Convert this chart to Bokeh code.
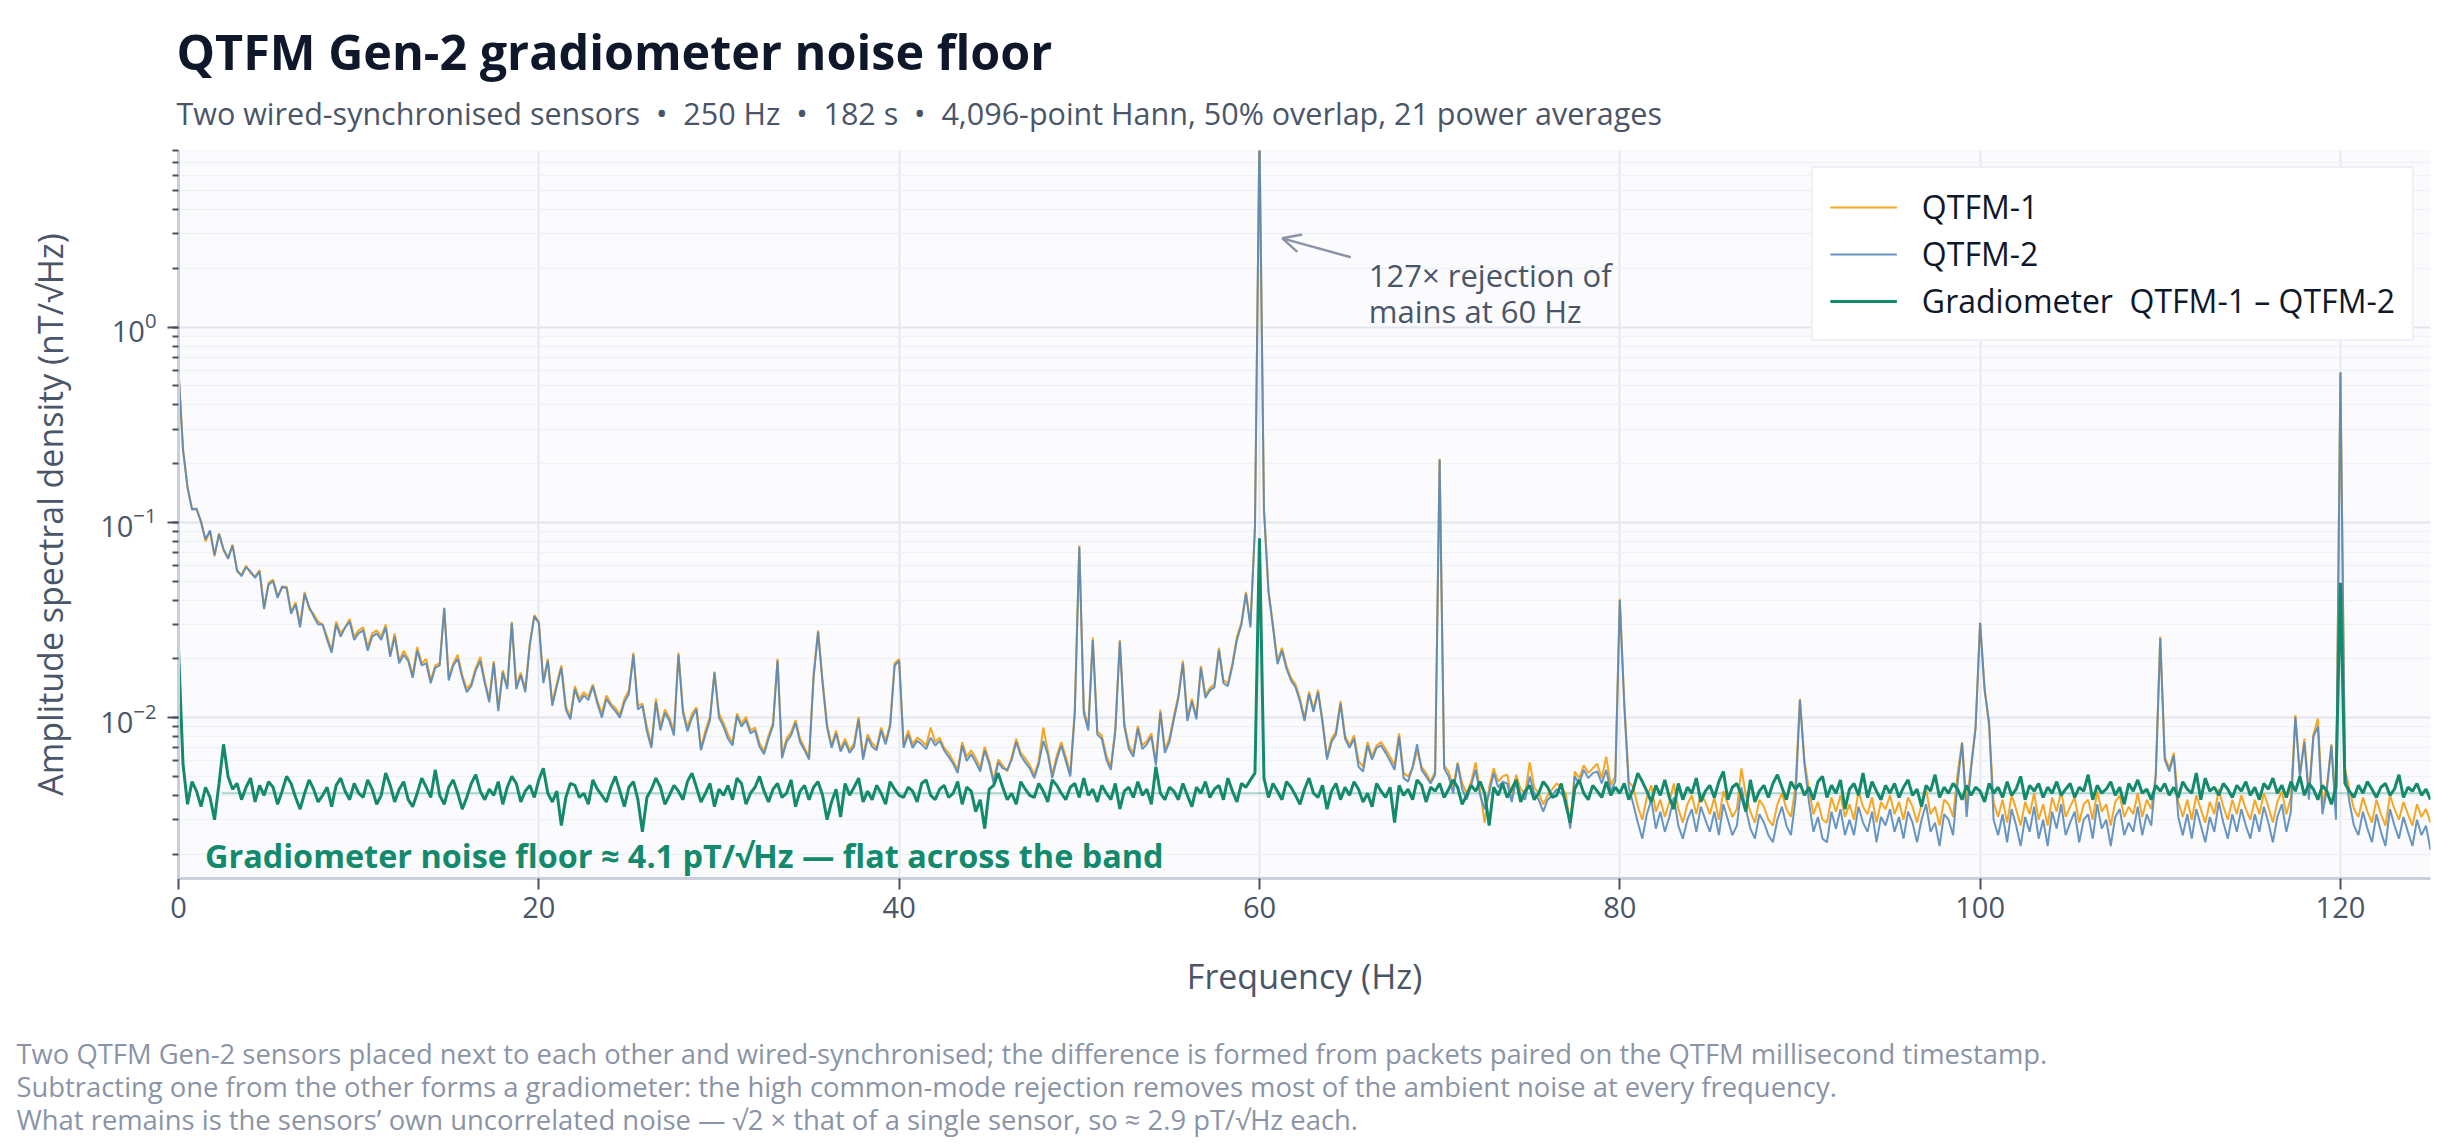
from bokeh.plotting import figure
from bokeh.models import (Label, Arrow, OpenHead, Legend, LegendItem, FixedTicker, Title)
from bokeh.embed import file_html
from bokeh.resources import INLINE

# ---------------- data (amplitude spectral density, pT/sqrt(Hz), 0.25 Hz bins) ----------------
F_STEP = 0.25
F_MAX = 125

QTFM1_PT = [
    605, 240, 150, 118, 116, 102, 80, 90, 67, 88, 72, 66, 77, 56, 54, 60, 55, 53, 57, 37,
    49, 51, 42, 46, 47, 35, 39, 30, 44, 36, 34, 31, 30, 26, 22, 31, 27, 29, 32, 26,
    28, 29, 23, 27, 28, 26, 30, 21, 27, 19.5, 22, 20, 16.5, 23, 19, 20, 15.5, 18.5, 19, 36,
    16, 19, 21, 16.5, 14, 15, 18, 20.5, 15.5, 12.5, 19.5, 11.2, 17.5, 14.5, 31, 14.5, 17, 14, 24, 33.5,
    31, 15.5, 20, 12, 15, 18.5, 11.5, 10, 14.5, 12.5, 13.5, 12.8, 14.8, 12.2, 10.5, 13, 11.8, 11.2, 10.3, 12.5,
    13.8, 21.5, 11.5, 11.8, 9, 7.2, 12.5, 9, 11, 10, 8.5, 21.5, 11, 8.9, 10.5, 11.3, 7, 8.6, 10.1, 17.2,
    10.5, 9.4, 8.2, 7.4, 10.5, 9.3, 10.1, 8.6, 8.9, 7.4, 6.7, 8.1, 9.4, 20, 6.4, 7.8, 8.4, 9.7, 7.8, 7.0,
    6.3, 16.5, 28, 15.5, 9.2, 7.2, 8.6, 6.9, 7.8, 6.8, 7.4, 10.1, 6.3, 8.2, 7.4, 7.0, 8.9, 7.6, 9.3, 19,
    20, 7.2, 8.6, 7.3, 7.9, 7.6, 7.2, 8.9, 7.5, 7.9, 7.0, 6.6, 6.0, 5.4, 7.5, 6.3, 6.8, 6.2, 5.5, 7.1,
    6.0, 4.8, 6.1, 5.7, 5.3, 6.3, 7.8, 6.6, 6.2, 5.7, 5.1, 6.0, 8.9, 6.8, 5.1, 6.4, 7.5, 6.3, 5.2, 11,
    76, 11, 9.0, 25.7, 8.5, 8.1, 6.4, 5.6, 8.8, 25, 9.3, 7.2, 6.6, 9.1, 7.2, 7.6, 8.3, 5.9, 11, 6.9,
    7.8, 10.2, 13, 19.6, 9.9, 12.5, 10.1, 18.4, 13, 14.2, 14.8, 22.8, 15.5, 15, 19, 26, 30.7, 44, 30, 95,
    10300, 118, 45, 30, 19.5, 22.8, 18.4, 16, 14.8, 12.5, 9.9, 13.6, 11, 13.9, 9.7, 6.3, 7.8, 8.5, 12.2, 8.1,
    7.2, 8.1, 6.0, 5.6, 7.5, 6.3, 7.2, 7.5, 6.9, 6.3, 5.7, 8.3, 5.2, 5.0, 5.5, 6.8, 5.6, 5.2, 4.7, 5.3,
    212, 5.7, 5.3, 4.4, 5.9, 4.6, 4.1, 4.7, 5.9, 4.2, 2.9, 4.4, 5.5, 4.7, 5.0, 5.1, 3.9, 5.1, 4.3, 4.1,
    5.9, 4.4, 4.1, 3.6, 4.0, 4.3, 4.6, 4.4, 4.1, 2.8, 5.3, 4.9, 5.7, 5.2, 5.5, 5.8, 4.9, 6.3, 4.5, 5.0,
    40.6, 12, 4.7, 4.4, 3.5, 3.0, 3.9, 4.5, 3.3, 3.8, 3.1, 3.7, 4.6, 3.4, 2.9, 3.6, 4.0, 3.2, 4.1, 3.7,
    3.2, 3.9, 3.0, 4.2, 3.6, 3.1, 3.4, 5.5, 4.0, 3.3, 2.9, 3.8, 3.5, 3.0, 2.8, 3.6, 4.1, 3.4, 3.1, 4.4,
    12.5, 6.0, 4.3, 3.2, 3.7, 3.0, 2.9, 3.9, 3.3, 4.0, 3.1, 3.6, 3.0, 4.2, 3.5, 3.2, 3.9, 2.9, 3.7, 3.4,
    4.0, 3.2, 3.7, 3.0, 3.9, 3.5, 2.9, 3.6, 4.3, 3.2, 3.5, 2.8, 3.8, 3.6, 3.1, 5.2, 7.5, 3.6, 5.7, 9,
    30.7, 14.2, 9, 3.7, 3.1, 3.8, 2.9, 4.0, 3.4, 2.8, 3.7, 3.2, 4.1, 3.0, 3.6, 2.8, 3.9, 3.3, 4.2, 3.1,
    3.5, 3.9, 2.9, 3.6, 3.8, 3.0, 4.2, 3.3, 3.6, 2.8, 3.7, 4.0, 3.1, 3.5, 3.2, 4.1, 3.1, 3.8, 3.4, 5.1,
    26, 6.3, 5.5, 6.6, 3.7, 3.1, 3.8, 3.0, 4.0, 3.4, 2.9, 3.7, 3.2, 4.3, 3.5, 3.0, 3.8, 3.2, 4.0, 3.4,
    3.0, 3.8, 3.2, 4.1, 3.5, 2.9, 3.7, 4.2, 3.2, 3.9, 10.3, 5.1, 7.8, 4.1, 8.2, 9.9, 3.6, 4.5, 7.3, 3.5,
    590, 5.5, 4.3, 3.4, 3.1, 3.9, 3.3, 2.9, 3.8, 3.2, 2.8, 4.0, 3.4, 3.0, 3.7, 3.2, 2.8, 3.6, 3.1, 3.4, 2.9,
]

QTFM2_PT = [
    600, 235, 152, 116, 118, 100, 82, 91, 68, 87, 73, 65, 76, 57, 53, 59, 56, 52, 56, 36,
    48, 50, 41, 47, 46, 34, 38, 29, 43, 37, 33, 30, 30, 25, 21.5, 30, 26, 29, 31, 25,
    27, 28, 22, 26, 27, 25, 29, 20.5, 26, 19, 21, 19.5, 16, 22, 18.5, 19, 15, 18, 18.5, 36.5,
    15.5, 18.5, 20, 16, 13.5, 14.5, 17.5, 19.5, 15, 12, 19, 10.8, 17, 14, 30.5, 14, 16.5, 13.5, 23.5, 33,
    30.5, 15, 19.5, 11.5, 14.5, 18, 11, 9.8, 14, 12, 13, 12.3, 14.5, 11.8, 10, 12.5, 11.5, 10.8, 10, 12,
    13.2, 21, 11, 11.5, 8.5, 7.0, 12, 8.6, 10.6, 9.6, 8.1, 21, 10.6, 8.5, 10, 11, 6.8, 8.2, 9.7, 17,
    10, 9, 7.8, 7.2, 10.2, 9, 9.7, 8.3, 8.6, 7.1, 6.5, 7.8, 9.1, 19.6, 6.2, 7.5, 8.1, 9.4, 7.5, 6.8,
    6.1, 16, 27.5, 15, 8.9, 7.0, 8.3, 6.7, 7.5, 6.6, 7.1, 9.8, 6.1, 7.9, 7.1, 6.8, 8.6, 7.3, 9.0, 18.5,
    19.5, 7.0, 8.2, 7.0, 7.6, 7.3, 6.9, 7.9, 7.2, 7.6, 6.8, 6.3, 5.8, 5.2, 7.2, 6.0, 6.5, 5.9, 5.3, 6.8,
    5.8, 4.6, 5.9, 5.5, 5.4, 6.1, 7.5, 6.4, 5.9, 5.5, 4.9, 5.8, 7.6, 6.5, 4.9, 6.1, 7.2, 6.0, 5.0, 10.5,
    75, 10.5, 8.6, 25, 8.2, 7.8, 6.1, 5.4, 8.5, 24.5, 9.0, 6.9, 6.3, 8.8, 6.9, 7.3, 8.0, 5.7, 10.6, 6.6,
    7.5, 9.8, 12.6, 19, 9.6, 12.1, 9.8, 18, 12.6, 13.8, 14.3, 22.2, 15, 14.5, 18.5, 25, 30, 43, 29, 93,
    10000, 115, 44, 29, 18.8, 22, 17.8, 15.5, 14.3, 12.1, 9.6, 13.2, 10.7, 13.5, 9.4, 6.1, 7.5, 8.2, 11.8, 7.8,
    7.0, 7.8, 5.6, 5.3, 7.2, 6.1, 7.0, 7.2, 6.6, 6.0, 5.4, 8.0, 4.9, 4.7, 5.6, 7.3, 5.4, 5.0, 4.6, 5.1,
    210, 5.5, 5.0, 4.1, 5.8, 4.3, 3.8, 4.5, 5.4, 4.0, 3.4, 4.1, 5.2, 4.4, 4.7, 4.6, 3.7, 4.8, 4.0, 3.8,
    5.0, 4.1, 3.8, 3.3, 3.8, 4.0, 4.3, 4.1, 3.8, 2.7, 5.0, 4.6, 5.4, 4.9, 5.2, 5.3, 4.6, 5.4, 4.2, 4.7,
    40, 11.5, 4.4, 3.6, 2.9, 2.4, 3.2, 3.8, 2.7, 3.3, 2.6, 3.1, 3.9, 2.8, 2.4, 3.0, 3.4, 2.6, 3.5, 3.0,
    2.6, 3.3, 2.5, 3.6, 3.0, 2.5, 2.8, 4.4, 3.4, 2.7, 2.4, 3.2, 2.9, 2.5, 2.3, 3.0, 3.5, 2.8, 2.5, 3.8,
    12.3, 5.8, 3.7, 2.6, 3.1, 2.4, 2.3, 3.3, 2.7, 3.4, 2.5, 3.0, 2.5, 3.5, 2.9, 2.6, 3.3, 2.3, 3.1, 2.8,
    3.4, 2.6, 3.1, 2.4, 3.3, 2.9, 2.3, 3.0, 3.6, 2.6, 2.9, 2.2, 3.2, 3.0, 2.5, 4.6, 7.4, 3.1, 5.5, 8.8,
    30.5, 13.8, 9.5, 3.0, 2.5, 3.2, 2.3, 3.4, 2.8, 2.2, 3.1, 2.6, 3.5, 2.4, 3.0, 2.2, 3.3, 2.7, 3.6, 2.5,
    2.9, 3.3, 2.3, 3.0, 3.2, 2.4, 3.6, 2.7, 3.0, 2.2, 3.1, 3.4, 2.5, 2.9, 2.6, 3.5, 2.5, 3.2, 2.8, 5.0,
    25.5, 6.1, 5.3, 6.4, 3.1, 2.5, 3.2, 2.4, 3.4, 2.8, 2.3, 3.1, 2.6, 3.7, 2.9, 2.4, 3.2, 2.6, 3.4, 2.8,
    2.4, 3.2, 2.6, 3.5, 2.9, 2.3, 3.1, 3.6, 2.6, 3.3, 10.1, 5.0, 7.5, 3.8, 8.0, 9.0, 3.2, 4.3, 7.2, 3.0,
    585, 5.3, 3.7, 2.8, 2.5, 3.3, 2.7, 2.3, 3.2, 2.6, 2.2, 3.4, 2.8, 2.4, 3.1, 2.6, 2.2, 3.0, 2.5, 2.8, 2.1,
]

GRAD_PT = [
    22.3, 5.8, 3.6, 4.7, 4.2, 3.5, 4.4, 3.9, 3.0, 4.6, 7.3, 5.0, 4.3, 4.6, 3.8, 4.4, 4.9, 3.7, 4.5, 4.0,
    4.7, 4.4, 3.6, 4.2, 5.0, 4.6, 3.9, 3.4, 4.1, 4.8, 4.3, 3.7, 4.0, 4.4, 3.5, 4.5, 4.9, 4.2, 3.8, 4.6,
    4.1, 3.9, 4.8, 4.3, 3.6, 4.0, 5.2, 4.5, 3.7, 4.3, 4.7, 3.8, 3.5, 4.1, 4.9, 4.4, 3.9, 5.4, 4.0, 3.6,
    4.4, 4.8, 4.1, 3.4, 3.9, 4.6, 5.1, 4.2, 3.8, 4.3, 4.0, 4.7, 3.6, 4.4, 5.0, 4.6, 3.7, 4.2, 4.5, 3.9,
    4.8, 5.5, 4.1, 3.7, 4.2, 2.8, 3.9, 4.6, 4.5, 3.9, 4.1, 3.6, 4.8, 4.3, 4.0, 3.7, 4.4, 5.0, 4.2, 3.5,
    4.4, 4.7, 3.8, 2.6, 3.9, 4.3, 4.9, 4.4, 3.6, 4.0, 4.5, 4.2, 3.8, 4.7, 5.2, 4.4, 3.7, 4.1, 4.6, 3.5,
    4.3, 4.0, 4.5, 3.8, 4.9, 4.6, 3.6, 4.1, 4.4, 5.0, 4.2, 3.7, 4.3, 4.6, 3.9, 4.1, 4.8, 3.5, 4.2, 4.5,
    3.8, 4.4, 4.7, 4.0, 3.0, 3.7, 4.3, 3.1, 4.6, 4.0, 4.4, 4.9, 3.7, 4.2, 3.8, 4.5, 4.1, 3.6, 4.7, 4.3,
    4.0, 3.9, 4.4, 4.2, 3.7, 4.6, 4.8, 4.0, 3.8, 4.3, 4.5, 3.9, 4.1, 4.7, 3.6, 4.4, 4.2, 3.3, 3.8, 2.7,
    4.3, 4.5, 5.2, 4.4, 3.8, 4.1, 3.6, 4.7, 4.3, 4.0, 3.9, 4.6, 4.2, 3.7, 4.8, 4.5, 4.1, 3.8, 4.4, 4.6,
    3.9, 4.9, 4.0, 4.3, 3.7, 4.5, 4.1, 3.8, 4.6, 3.4, 4.2, 4.4, 3.9, 4.7, 4.0, 4.3, 3.6, 5.6, 4.1, 3.8,
    4.4, 4.2, 3.8, 4.6, 4.0, 3.5, 4.4, 4.1, 4.7, 3.9, 4.3, 4.5, 3.8, 4.9, 4.2, 3.7, 4.6, 4.4, 4.8, 5.2,
    83, 4.9, 3.9, 4.6, 4.2, 3.8, 4.7, 4.4, 4.0, 3.6, 4.3, 4.9, 4.1, 3.9, 4.5, 3.4, 4.2, 4.6, 3.8, 4.4,
    4.0, 4.7, 4.3, 3.7, 4.1, 3.5, 4.6, 4.2, 3.9, 4.4, 2.9, 4.5, 4.0, 4.3, 3.8, 4.8, 4.5, 3.7, 4.4, 4.2,
    4.6, 3.9, 4.3, 4.8, 4.4, 3.6, 4.0, 4.5, 4.2, 4.7, 4.1, 2.8, 4.4, 4.0, 4.6, 3.9, 4.3, 4.8, 3.7, 4.2,
    4.5, 3.8, 4.1, 4.7, 4.4, 3.9, 4.0, 4.6, 3.6, 2.9, 4.3, 4.8, 4.1, 3.8, 4.5, 4.2, 3.9, 4.7, 4.0, 4.4,
    4.1, 4.6, 3.8, 4.3, 5.2, 4.7, 4.2, 3.7, 4.5, 4.0, 4.8, 3.9, 3.4, 4.6, 3.8, 4.4, 4.1, 4.9, 3.7, 4.2,
    4.5, 3.9, 4.7, 5.3, 3.8, 4.4, 4.6, 4.0, 3.3, 4.8, 3.7, 4.2, 4.5, 3.9, 4.6, 5.1, 4.4, 3.8, 4.7, 4.3,
    4.6, 4.0, 4.4, 3.8, 4.7, 5.0, 3.9, 4.5, 4.1, 4.8, 3.4, 4.3, 4.6, 4.0, 5.2, 3.9, 4.7, 4.2, 3.8, 4.5,
    4.1, 4.6, 3.9, 4.4, 4.8, 4.0, 4.3, 3.5, 4.5, 4.2, 5.1, 3.9, 4.4, 4.1, 4.6, 4.3, 3.8, 4.5, 4.0, 4.4,
    4.2, 3.7, 4.6, 4.1, 4.4, 3.9, 4.7, 4.0, 4.3, 5.0, 3.8, 4.5, 4.2, 4.6, 3.9, 4.4, 4.1, 4.7, 4.0, 4.3,
    4.6, 3.9, 4.4, 4.2, 5.1, 3.8, 4.5, 4.1, 4.3, 4.7, 4.0, 4.4, 3.6, 4.6, 4.2, 4.8, 4.1, 4.3, 3.8, 4.5,
    4.2, 4.6, 4.0, 4.4, 3.9, 4.7, 4.3, 4.1, 5.2, 3.8, 4.9, 4.2, 4.4, 4.0, 4.6, 4.3, 3.9, 4.5, 4.2, 4.7,
    4.0, 4.4, 3.8, 4.6, 4.3, 4.9, 4.1, 4.5, 3.9, 4.7, 4.2, 5.0, 4.0, 4.6, 4.3, 3.8, 4.5, 4.2, 3.6, 4.4,
    49, 4.6, 4.2, 3.9, 4.5, 4.1, 4.7, 4.3, 3.9, 4.4, 4.6, 4.0, 4.3, 5.1, 3.9, 4.4, 4.2, 4.6, 4.0, 4.3, 3.8,
]

FLOOR_PT = 4.1
FLOOR_START_HZ = 2.4
X_TICKS = [0, 20, 40, 60, 80, 100, 120]
Y_RANGE = (1.5e-3, 8.03)

NB = "\u00a0"
TITLE = "QTFM Gen-2 gradiometer noise floor"
SUBTITLE = ("Two wired-synchronised sensors " + NB + "\u2022" + NB + " 250 Hz " + NB + "\u2022" + NB +
            " 182 s " + NB + "\u2022" + NB + " 4,096-point Hann, 50% overlap, 21 power averages")
FOOTER = [
    "Two QTFM Gen-2 sensors placed next to each other and wired-synchronised; the difference is formed from packets paired on the QTFM millisecond timestamp.",
    "Subtracting one from the other forms a gradiometer: the high common-mode rejection removes most of the ambient noise at every frequency.",
    "What remains is the sensors\u2019 own uncorrelated noise \u2014 \u221a2 \u00d7 that of a single sensor, so \u2248 2.9 pT/\u221aHz each.",
]
NOTE_LINES = ["127\u00d7 rejection of", "mains at 60 Hz"]
FLOOR_NOTE = "Gradiometer noise floor \u2248 4.1 pT/\u221aHz \u2014 flat across the band"
LEGEND_LABELS = ["QTFM-1", "QTFM-2", "Gradiometer " + NB + "QTFM-1 \u2013 QTFM-2"]

FONT = "Open Sans"
C_Q1 = "#f5a623"
C_Q2 = "#5689bd"
C_GR = "#128a6b"
C_TEXT = "#4a5568"
C_MUTED = "#8a94a6"


def nt(vals):
    return [v / 1000.0 for v in vals]


def freqs(vals):
    return [i * F_STEP for i in range(len(vals))]


p = figure(width=2464, height=1144, x_range=(0, F_MAX), y_range=Y_RANGE,
           y_axis_type="log", output_backend="svg", toolbar_location=None, title=None,
           min_border_left=178, min_border_right=34, min_border_top=150,
           min_border_bottom=266)

p.background_fill_color = "#fbfbfe"
p.border_fill_color = "white"
p.outline_line_color = None

p.line([FLOOR_START_HZ, F_MAX], nt([FLOOR_PT, FLOOR_PT]), line_color=C_GR,
       line_alpha=0.35, line_width=2)
r1 = p.line(freqs(QTFM1_PT), nt(QTFM1_PT), line_color=C_Q1, line_width=2)
r2 = p.line(freqs(QTFM2_PT), nt(QTFM2_PT), line_color=C_Q2, line_width=2, line_alpha=0.9)
r3 = p.line(freqs(GRAD_PT), nt(GRAD_PT), line_color=C_GR, line_width=3)

p.xaxis.ticker = FixedTicker(ticks=X_TICKS)
p.xaxis.axis_label = "Frequency (Hz)"
p.yaxis.axis_label = "Amplitude spectral density (nT/\u221aHz)"
for ax in (p.xaxis[0], p.yaxis[0]):
    ax.axis_line_color = "#c9cfdc"
    ax.axis_line_width = 3
    ax.major_tick_line_color = "#4a5060"
    ax.major_tick_line_width = 2
    ax.major_tick_out = 11
    ax.major_tick_in = 0
    ax.minor_tick_line_color = "#4a5060"
    ax.minor_tick_line_width = 2
    ax.minor_tick_out = 6
    ax.minor_tick_in = 0
    ax.major_label_text_font = FONT
    ax.major_label_text_font_size = "29px"
    ax.major_label_text_color = C_TEXT
    ax.axis_label_text_font = FONT
    ax.axis_label_text_font_size = "34px"
    ax.axis_label_text_font_style = "normal"
    ax.axis_label_text_color = C_TEXT
p.xaxis.minor_tick_line_color = None
p.xaxis.major_label_standoff = 7
p.xaxis.axis_label_standoff = 32
p.yaxis.major_label_standoff = 11
p.yaxis.axis_label_standoff = 24

p.xgrid.grid_line_color = "#e5e8ef"
p.xgrid.grid_line_width = 2
p.ygrid.grid_line_color = "#e2e5ed"
p.ygrid.grid_line_width = 2
p.ygrid.minor_grid_line_color = "#eff1f6"
p.ygrid.minor_grid_line_width = 1.5

legend = Legend(items=[
    LegendItem(label=LEGEND_LABELS[0], renderers=[r1]),
    LegendItem(label=LEGEND_LABELS[1], renderers=[r2]),
    LegendItem(label=LEGEND_LABELS[2], renderers=[r3]),
], location="top_right")
legend.margin = 16
legend.padding = 17
legend.spacing = 4
legend.label_height = 36
legend.glyph_height = 36
legend.glyph_width = 67
legend.label_standoff = 25
legend.label_text_font = FONT
legend.label_text_font_size = "32px"
legend.label_text_color = "#0f172a"
legend.border_line_color = "#dde1ea"
legend.border_line_width = 2
legend.background_fill_color = "white"
legend.background_fill_alpha = 0.95
p.add_layout(legend)

p.add_layout(Arrow(end=OpenHead(size=18, line_color=C_MUTED, line_width=2.5),
                   x_start=65.07, y_start=2.28, x_end=61.27, y_end=2.85,
                   line_color=C_MUTED, line_width=2.5))
p.add_layout(Label(x=66.07, y=1.84, text=NOTE_LINES[0], text_font=FONT,
                   text_font_size="31px", text_color=C_TEXT, text_baseline="alphabetic"))
p.add_layout(Label(x=66.07, y=1.216, text=NOTE_LINES[1], text_font=FONT,
                   text_font_size="31px", text_color=C_TEXT, text_baseline="alphabetic"))
p.add_layout(Label(x=1.47, y=0.00199, text=FLOOR_NOTE, text_font=FONT,
                   text_font_size="32.4px", text_font_style="bold", text_color=C_GR,
                   text_baseline="alphabetic"))

# header: subtitle (closest to frame) then title
p.add_layout(Title(text=SUBTITLE, align="left", vertical_align="top", offset=-2,
                   standoff=30, text_font=FONT, text_font_size="30.5px",
                   text_font_style="normal", text_color=C_TEXT), "above")
p.add_layout(Title(text=TITLE, align="left", vertical_align="bottom", offset=-2,
                   standoff=-14.8, text_font=FONT, text_font_size="48.5px",
                   text_font_style="bold", text_color="#0f172a"), "above")

# footer: blank spacer below the axis, then one title per line
p.add_layout(Title(text=NB, align="left", vertical_align="bottom", offset=0,
                   standoff=-4.5, text_font=FONT, text_font_size="26px",
                   text_color="white"), "below")
for line in FOOTER:
    p.add_layout(Title(text=line, align="left", vertical_align="bottom",
                       offset=-162, standoff=-6.3, text_font=FONT, text_font_size="27.4px",
                       text_font_style="normal", text_color=C_MUTED), "below")

open("out.html", "w").write(file_html(p, INLINE))
